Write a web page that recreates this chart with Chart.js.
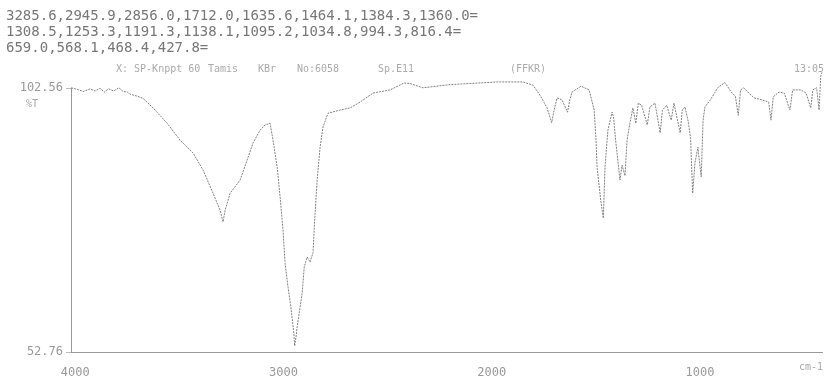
<!DOCTYPE html>
<html>
<head>
<meta charset="utf-8">
<script src="https://cdn.jsdelivr.net/npm/chart.js@4"></script>
<style>
  body { margin: 0; background: #fff; }
  #wrap { position: relative; width: 824px; height: 376px; overflow: hidden; }
  #spec { position: absolute; left: 0; top: 0; }
  .t { position: absolute; font-family: "DejaVu Sans Mono", monospace; white-space: pre; color: #aaa; }
  #peaks { left: 6px; top: 7px; font-size: 14px; line-height: 16px; color: #777; }
</style>
</head>
<body>
<div id="wrap">
  <canvas id="spec" width="824" height="376"></canvas>
  <div class="t" id="peaks"></div>
  <div id="info"></div>
</div>
<script>
// peak table printed above the trace
const peakList = [
  "3285.6", "2945.9", "2856.0", "1712.0", "1635.6", "1464.1", "1384.3", "1360.0",
  "1308.5", "1253.3", "1191.3", "1138.1", "1095.2", "1034.8", "994.3", "816.4",
  "659.0", "568.1", "468.4", "427.8",
];

// spectrum (cm-1, %T)
const wavenumber = [
  4019, 3990, 3960, 3928, 3905, 3880, 3860, 3840, 3815, 3790, 3770, 3750, 3736, 3700,
  3674, 3626, 3558, 3496, 3434, 3386, 3338, 3304, 3290, 3280, 3256, 3208, 3174, 3146,
  3112, 3088, 3064, 3050, 3030, 3016, 3002, 2992, 2978, 2964, 2950, 2946, 2940, 2934,
  2910, 2900, 2886, 2872, 2858, 2848, 2838, 2824, 2810, 2786, 2728, 2680, 2632, 2570,
  2488, 2420, 2392, 2330, 2200, 1974, 1850, 1802, 1768, 1734, 1712, 1700, 1686, 1662,
  1636, 1625, 1614, 1571, 1532, 1508, 1499, 1494, 1475, 1464, 1456, 1442, 1422, 1415,
  1405, 1384, 1374, 1360, 1350, 1336, 1322, 1308, 1296, 1280, 1253, 1240, 1216, 1191,
  1180, 1160, 1138, 1125, 1095, 1085, 1072, 1055, 1045, 1035, 1024, 1010, 994, 985,
  976, 950, 915, 880, 850, 830, 816, 805, 790, 765, 740, 700, 670, 659, 648, 620, 595,
  568, 555, 515, 490, 468, 458, 440, 428, 420, 414,
];
const transmit = [
  102.6, 102.3, 101.9, 102.4, 102.0, 102.5, 101.8, 102.4, 102.0, 102.6, 101.9, 101.8, 101.4, 101.0,
  100.6, 98.8, 95.9, 92.7, 90.3, 87.1, 82.7, 79.5, 77.3, 79.5, 82.7, 85.2, 89.0, 92.2,
  94.6, 95.6, 95.9, 92.7, 87.6, 82.0, 75.8, 69.5, 65.0, 61.2, 56.3, 53.9, 55.5, 57.5,
  63.9, 68.8, 70.7, 69.7, 71.5, 79.0, 85.2, 91.4, 95.2, 97.8, 98.4, 98.8, 99.9, 101.6,
  102.2, 103.5, 103.4, 102.6, 103.2, 103.7, 103.7, 103.1, 101.2, 98.8, 96.0, 98.5, 100.7, 100.3,
  98.0, 100.3, 101.8, 102.9, 102.2, 98.4, 92.7, 87.6, 80.9, 78.0, 87.6, 94.6, 98.0, 97.1,
  92.7, 85.2, 88.0, 86.0, 92.7, 96.0, 98.8, 95.9, 99.7, 99.3, 95.6, 99.0, 99.7, 94.1,
  98.4, 99.3, 96.5, 99.7, 94.1, 98.4, 99.0, 96.0, 93.0, 82.7, 88.4, 91.4, 85.8, 96.5,
  99.0, 100.3, 102.6, 103.6, 101.8, 101.0, 97.4, 102.2, 102.6, 101.6, 100.7, 100.3, 99.9, 96.5, 100.9, 101.8, 101.6,
  98.4, 102.2, 102.2, 101.6, 98.8, 102.2, 102.6, 98.4, 104.8, 105.5,
];

const xTicks = [4000, 3000, 2000, 1000];
const yTicks = [52.76, 102.56];

// header text: peak list wrapped at 8 per line, then the run info
const lines = [];
for (let i = 0; i < peakList.length; i += 8) {
  lines.push(peakList.slice(i, i + 8).join(",") + "=");
}
document.getElementById("peaks").textContent = lines.join(",\n").replace(/=,\n/g, "=\n");

const infoWords = [
  ["X: SP-Knppt 60", 116, 63], ["Tamis", 208, 63], ["KBr", 258, 63], ["No:6058", 297, 63],
  ["Sp.E11", 378, 63], ["(FFKR)", 510, 63], ["13:05", 794, 63], ["%T", 26, 98], ["cm-1", 799, 361],
];
const info = document.getElementById("info");
infoWords.forEach(([txt, x, y]) => {
  const d = document.createElement("div");
  d.className = "t";
  d.style.left = x + "px";
  d.style.top = y + "px";
  d.style.fontSize = "10px";
  d.textContent = txt;
  info.appendChild(d);
});

const ctx = document.getElementById("spec").getContext("2d");

let specChart = new Chart(ctx, {
  type: "line",
  data: {
    datasets: [
      {
        label: "IR",
        data: wavenumber.map((w, i) => ({ x: w, y: transmit[i] })),
        borderColor: "#808080",
        borderWidth: 1,
        borderDash: [2, 1],
        pointRadius: 0,
        tension: 0,
        clip: false,
      },
    ],
  },
  options: {
    responsive: false,
    animation: false,
    layout: {
      padding: { top: 88, right: 2, left: 0, bottom: 0 },
    },
    plugins: {
      legend: { display: false },
      tooltip: { enabled: false },
    },
    scales: {
      x: {
        type: "linear",
        reverse: true,
        min: 414,
        max: 4020,
        afterBuildTicks: (s) => {
          s.ticks = xTicks.map((v) => ({ value: v }));
        },
        afterFit: (s) => {
          s.height = 24;
        },
        ticks: {
          color: "#999",
          font: { family: "DejaVu Sans Mono", size: 12 },
          maxRotation: 0,
          autoSkip: false,
          padding: 6,
          callback: (v) => String(v),
        },
        grid: { display: false },
        border: { display: true, color: "#999", dash: [1, 2] },
      },
      y: {
        min: 52.76,
        max: 102.56,
        afterBuildTicks: (s) => {
          s.ticks = yTicks.map((v) => ({ value: v }));
        },
        afterFit: (s) => {
          s.width = 71;
        },
        ticks: {
          color: "#999",
          font: { family: "DejaVu Sans Mono", size: 12 },
          padding: 3,
          callback: (v) => v.toFixed(2),
        },
        grid: { drawOnChartArea: false, drawTicks: true, tickLength: 5, color: "#bbb" },
        border: { display: true, color: "#999", dash: [1, 2] },
      },
    },
  },
});
</script>
</body>
</html>
